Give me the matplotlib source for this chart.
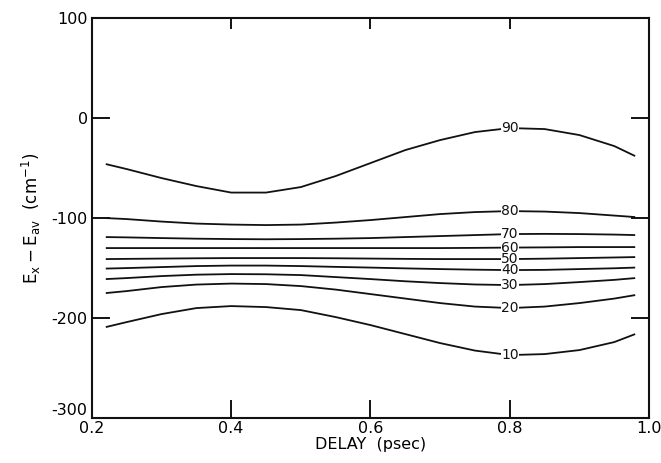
import matplotlib
matplotlib.use("Agg")
import matplotlib.pyplot as plt

delay = [0.22, 0.25, 0.30, 0.35, 0.40, 0.45, 0.50, 0.55, 0.60, 0.65,
         0.70, 0.75, 0.80, 0.85, 0.90, 0.95, 0.98]
c90 = [-46, -51, -60, -68, -74.5, -74.5, -69, -58, -45, -32,
       -22, -14, -10, -11, -17, -28, -38]
c80 = [-100, -101, -103.5, -105.5, -106.5, -107, -106.5, -104.5, -102, -99,
       -96, -94, -93, -93.5, -95, -97.5, -99]
c70 = [-119, -119.3, -120, -120.6, -121, -121.2, -121, -120.6, -120, -119,
       -118, -117, -116, -115.8, -116, -116.5, -117]
c60 = [-130, -130, -130, -130, -130, -130, -130, -130, -130, -130,
       -130, -129.8, -129.5, -129.3, -129, -129, -129]
c50 = [-141, -140.8, -140.5, -140.2, -140, -140, -140, -140.2, -140.5, -140.8,
       -141, -141, -141, -140.6, -140, -139.4, -139]
c40 = [-150.5, -150, -149, -148, -147.5, -147.5, -148, -148.8, -149.5, -150.3,
       -151, -151.6, -152, -151.8, -151, -150.2, -149.5]
c30 = [-161, -160, -158, -156.6, -156, -156.2, -157, -159, -161, -163.2,
       -165, -166.4, -167, -166, -164, -161.8, -160]
c20 = [-175, -173, -169, -166.5, -165.5, -166, -168, -171.5, -176, -180.5,
       -185, -188.5, -190, -188.5, -185, -180.5, -177]
c10 = [-209, -204, -196, -190, -188, -189, -192, -199, -207, -216,
       -225, -232.5, -237, -236, -232, -224, -216]
curves = [("90", c90), ("80", c80), ("70", c70), ("60", c60), ("50", c50),
          ("40", c40), ("30", c30), ("20", c20), ("10", c10)]
label_x = 0.80

xticks = [0.2, 0.4, 0.6, 0.8, 1.0]
xticklabels = ["0.2", "0.4", "0.6", "0.8", "1.0"]
yticks = [-300, -200, -100, 0, 100]
yticklabels = ["-300", "-200", "-100", "0", "100"]

plt.rcParams['font.family'] = ['DejaVu Sans']
fig = plt.figure(figsize=(6.61, 4.63), dpi=100)
ax = fig.add_axes([0.139, 0.097, 0.843, 0.864])
for lab, vals in curves:
    ax.plot(delay, vals, color="#111111", lw=1.3, solid_capstyle="butt")
    idx = delay.index(label_x)
    ax.text(label_x, vals[idx], lab, ha="center", va="center", fontsize=10,
            color="#111111",
            bbox=dict(boxstyle="square,pad=0.02", fc="white", ec="none"))

ax.set_xlim(0.2, 1.0)
ax.set_ylim(-300, 100)
ax.set_xticks(xticks)
ax.set_xticklabels(xticklabels, fontsize=11.5)
ax.set_yticks(yticks)
ax.set_yticklabels(yticklabels, fontsize=11.5)
ax.get_yticklabels()[0].set_va("bottom")
ax.tick_params(axis="y", direction="in", length=13, width=1.3, left=True, right=True, pad=3)
ax.tick_params(axis="x", direction="in", length=13, width=1.3, bottom=True, top=False, pad=2)
sec = ax.secondary_xaxis("top")
sec.set_xticks([0.4, 0.6, 0.8])
sec.set_xticklabels([])
sec.tick_params(direction="in", length=8, width=1.3)
sec.spines["top"].set_visible(False)
for s in ax.spines.values():
    s.set_linewidth(1.5)
    s.set_color("#111111")
ax.set_xlabel("DELAY  (psec)", fontsize=11.5, labelpad=1)
ax.set_ylabel(r"$\mathregular{E_x - E_{av}\ \ (cm^{-1})}$", fontsize=12, labelpad=6)
fig.savefig("out.png", dpi=100)
